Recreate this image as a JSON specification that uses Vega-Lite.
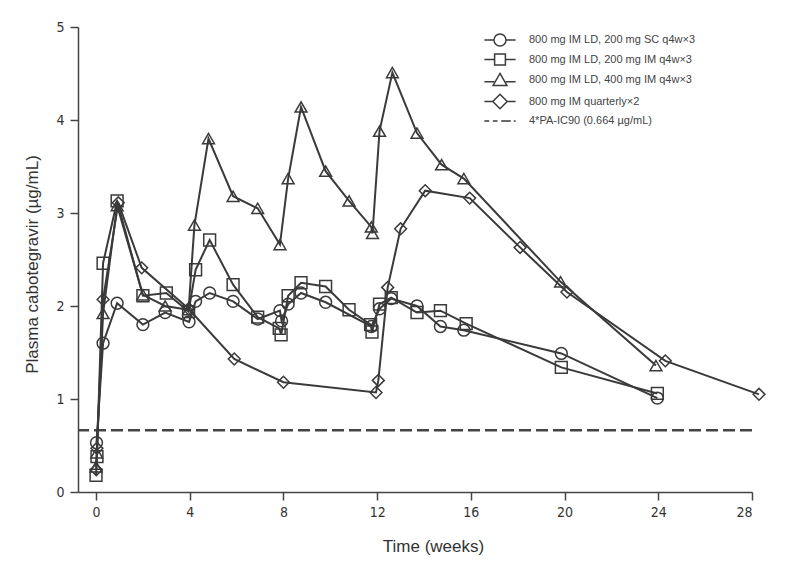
{
  "$schema": "https://vega.github.io/schema/vega-lite/v6.json",
  "width": 674,
  "height": 465,
  "autosize": "none",
  "padding": {"left": 78, "top": 27, "right": 48, "bottom": 88},
  "background": "white",
  "config": {
    "font": "Liberation Sans",
    "view": {"stroke": null},
    "axis": {
      "grid": false,
      "domainColor": "#444",
      "domainWidth": 1.5,
      "tickColor": "#444",
      "tickWidth": 1.5,
      "tickSize": 8,
      "labelFont": "Liberation Sans Narrow, DejaVu Sans Condensed, Liberation Sans",
      "labelFontSize": 14,
      "labelColor": "#333",
      "titleFont": "Liberation Sans",
      "titleFontSize": 17,
      "titleFontWeight": "normal",
      "titleColor": "#333"
    }
  },
  "datasets": {
    "pk": [
      {"s": "800 mg IM LD, 200 mg SC q4w×3", "t": 0.02, "c": 0.53},
      {"s": "800 mg IM LD, 200 mg SC q4w×3", "t": 0.3, "c": 1.6},
      {"s": "800 mg IM LD, 200 mg SC q4w×3", "t": 0.9, "c": 2.03},
      {"s": "800 mg IM LD, 200 mg SC q4w×3", "t": 2.0, "c": 1.8},
      {"s": "800 mg IM LD, 200 mg SC q4w×3", "t": 2.95, "c": 1.93},
      {"s": "800 mg IM LD, 200 mg SC q4w×3", "t": 3.97, "c": 1.83},
      {"s": "800 mg IM LD, 200 mg SC q4w×3", "t": 4.25, "c": 2.05},
      {"s": "800 mg IM LD, 200 mg SC q4w×3", "t": 4.85, "c": 2.14},
      {"s": "800 mg IM LD, 200 mg SC q4w×3", "t": 5.85, "c": 2.05},
      {"s": "800 mg IM LD, 200 mg SC q4w×3", "t": 6.9, "c": 1.86},
      {"s": "800 mg IM LD, 200 mg SC q4w×3", "t": 7.85, "c": 1.95},
      {"s": "800 mg IM LD, 200 mg SC q4w×3", "t": 7.92, "c": 1.84},
      {"s": "800 mg IM LD, 200 mg SC q4w×3", "t": 8.2, "c": 2.02},
      {"s": "800 mg IM LD, 200 mg SC q4w×3", "t": 8.75, "c": 2.14},
      {"s": "800 mg IM LD, 200 mg SC q4w×3", "t": 9.8, "c": 2.04},
      {"s": "800 mg IM LD, 200 mg SC q4w×3", "t": 11.75, "c": 1.78},
      {"s": "800 mg IM LD, 200 mg SC q4w×3", "t": 12.1, "c": 1.97},
      {"s": "800 mg IM LD, 200 mg SC q4w×3", "t": 12.6, "c": 2.08},
      {"s": "800 mg IM LD, 200 mg SC q4w×3", "t": 13.7, "c": 2.0},
      {"s": "800 mg IM LD, 200 mg SC q4w×3", "t": 14.7, "c": 1.78},
      {"s": "800 mg IM LD, 200 mg SC q4w×3", "t": 15.7, "c": 1.74},
      {"s": "800 mg IM LD, 200 mg SC q4w×3", "t": 19.86, "c": 1.49},
      {"s": "800 mg IM LD, 200 mg SC q4w×3", "t": 23.96, "c": 1.01},

      {"s": "800 mg IM LD, 200 mg IM q4w×3", "t": 0.0, "c": 0.18},
      {"s": "800 mg IM LD, 200 mg IM q4w×3", "t": 0.04, "c": 0.38},
      {"s": "800 mg IM LD, 200 mg IM q4w×3", "t": 0.3, "c": 2.46},
      {"s": "800 mg IM LD, 200 mg IM q4w×3", "t": 0.9, "c": 3.13},
      {"s": "800 mg IM LD, 200 mg IM q4w×3", "t": 2.0, "c": 2.11},
      {"s": "800 mg IM LD, 200 mg IM q4w×3", "t": 3.0, "c": 2.14},
      {"s": "800 mg IM LD, 200 mg IM q4w×3", "t": 3.95, "c": 1.94},
      {"s": "800 mg IM LD, 200 mg IM q4w×3", "t": 4.25, "c": 2.39},
      {"s": "800 mg IM LD, 200 mg IM q4w×3", "t": 4.85, "c": 2.71},
      {"s": "800 mg IM LD, 200 mg IM q4w×3", "t": 5.85, "c": 2.23},
      {"s": "800 mg IM LD, 200 mg IM q4w×3", "t": 6.9, "c": 1.88},
      {"s": "800 mg IM LD, 200 mg IM q4w×3", "t": 7.82, "c": 1.76},
      {"s": "800 mg IM LD, 200 mg IM q4w×3", "t": 7.9, "c": 1.69},
      {"s": "800 mg IM LD, 200 mg IM q4w×3", "t": 8.2, "c": 2.11},
      {"s": "800 mg IM LD, 200 mg IM q4w×3", "t": 8.75, "c": 2.25},
      {"s": "800 mg IM LD, 200 mg IM q4w×3", "t": 9.8, "c": 2.21},
      {"s": "800 mg IM LD, 200 mg IM q4w×3", "t": 10.8, "c": 1.96},
      {"s": "800 mg IM LD, 200 mg IM q4w×3", "t": 11.72, "c": 1.8},
      {"s": "800 mg IM LD, 200 mg IM q4w×3", "t": 11.78, "c": 1.72},
      {"s": "800 mg IM LD, 200 mg IM q4w×3", "t": 12.1, "c": 2.02},
      {"s": "800 mg IM LD, 200 mg IM q4w×3", "t": 12.6, "c": 2.09},
      {"s": "800 mg IM LD, 200 mg IM q4w×3", "t": 13.7, "c": 1.93},
      {"s": "800 mg IM LD, 200 mg IM q4w×3", "t": 14.7, "c": 1.95},
      {"s": "800 mg IM LD, 200 mg IM q4w×3", "t": 15.8, "c": 1.81},
      {"s": "800 mg IM LD, 200 mg IM q4w×3", "t": 19.86, "c": 1.34},
      {"s": "800 mg IM LD, 200 mg IM q4w×3", "t": 23.96, "c": 1.06},

      {"s": "800 mg IM LD, 400 mg IM q4w×3", "t": 0.0, "c": 0.27},
      {"s": "800 mg IM LD, 400 mg IM q4w×3", "t": 0.03, "c": 0.42},
      {"s": "800 mg IM LD, 400 mg IM q4w×3", "t": 0.3, "c": 1.92},
      {"s": "800 mg IM LD, 400 mg IM q4w×3", "t": 0.9, "c": 3.08},
      {"s": "800 mg IM LD, 400 mg IM q4w×3", "t": 2.0, "c": 2.12},
      {"s": "800 mg IM LD, 400 mg IM q4w×3", "t": 2.95, "c": 2.0},
      {"s": "800 mg IM LD, 400 mg IM q4w×3", "t": 3.95, "c": 1.96},
      {"s": "800 mg IM LD, 400 mg IM q4w×3", "t": 4.2, "c": 2.87},
      {"s": "800 mg IM LD, 400 mg IM q4w×3", "t": 4.8, "c": 3.8},
      {"s": "800 mg IM LD, 400 mg IM q4w×3", "t": 5.85, "c": 3.18},
      {"s": "800 mg IM LD, 400 mg IM q4w×3", "t": 6.9, "c": 3.05},
      {"s": "800 mg IM LD, 400 mg IM q4w×3", "t": 7.85, "c": 2.66},
      {"s": "800 mg IM LD, 400 mg IM q4w×3", "t": 8.2, "c": 3.37},
      {"s": "800 mg IM LD, 400 mg IM q4w×3", "t": 8.75, "c": 4.14},
      {"s": "800 mg IM LD, 400 mg IM q4w×3", "t": 9.8, "c": 3.45},
      {"s": "800 mg IM LD, 400 mg IM q4w×3", "t": 10.8, "c": 3.13},
      {"s": "800 mg IM LD, 400 mg IM q4w×3", "t": 11.75, "c": 2.85},
      {"s": "800 mg IM LD, 400 mg IM q4w×3", "t": 11.8, "c": 2.78},
      {"s": "800 mg IM LD, 400 mg IM q4w×3", "t": 12.1, "c": 3.88},
      {"s": "800 mg IM LD, 400 mg IM q4w×3", "t": 12.65, "c": 4.51},
      {"s": "800 mg IM LD, 400 mg IM q4w×3", "t": 13.7, "c": 3.86},
      {"s": "800 mg IM LD, 400 mg IM q4w×3", "t": 14.75, "c": 3.52},
      {"s": "800 mg IM LD, 400 mg IM q4w×3", "t": 15.7, "c": 3.37},
      {"s": "800 mg IM LD, 400 mg IM q4w×3", "t": 19.83, "c": 2.26},
      {"s": "800 mg IM LD, 400 mg IM q4w×3", "t": 23.9, "c": 1.36},

      {"s": "800 mg IM quarterly×2", "t": 0.01, "c": 0.24},
      {"s": "800 mg IM quarterly×2", "t": 0.04, "c": 0.47},
      {"s": "800 mg IM quarterly×2", "t": 0.3, "c": 2.07},
      {"s": "800 mg IM quarterly×2", "t": 0.95, "c": 3.11},
      {"s": "800 mg IM quarterly×2", "t": 1.95, "c": 2.41},
      {"s": "800 mg IM quarterly×2", "t": 3.95, "c": 1.97},
      {"s": "800 mg IM quarterly×2", "t": 5.9, "c": 1.43},
      {"s": "800 mg IM quarterly×2", "t": 8.0, "c": 1.18},
      {"s": "800 mg IM quarterly×2", "t": 11.95, "c": 1.07},
      {"s": "800 mg IM quarterly×2", "t": 12.05, "c": 1.2},
      {"s": "800 mg IM quarterly×2", "t": 12.45, "c": 2.2},
      {"s": "800 mg IM quarterly×2", "t": 13.0, "c": 2.83},
      {"s": "800 mg IM quarterly×2", "t": 14.05, "c": 3.24},
      {"s": "800 mg IM quarterly×2", "t": 15.95, "c": 3.16},
      {"s": "800 mg IM quarterly×2", "t": 18.1, "c": 2.63},
      {"s": "800 mg IM quarterly×2", "t": 20.1, "c": 2.15},
      {"s": "800 mg IM quarterly×2", "t": 24.3, "c": 1.41},
      {"s": "800 mg IM quarterly×2", "t": 28.3, "c": 1.05}
    ],
    "ref": [
      {"s": "4*PA-IC90 (0.664 µg/mL)", "c": 0.664}
    ]
  },
  "resolve": {"scale": {"shape": "independent"}, "legend": {"shape": "independent"}},
  "layer": [
    {
      "data": {"name": "ref"},
      "mark": {"type": "rule", "stroke": "#444", "strokeWidth": 2.5, "strokeDash": [12, 5]},
      "encoding": {
        "y": {"field": "c", "type": "quantitative", "scale": {"domain": [0, 5]}}
      }
    },
    {
      "data": {"name": "pk"},
      "mark": {"type": "line", "stroke": "#3a3a3a", "strokeWidth": 2},
      "encoding": {
        "x": {"field": "t", "type": "quantitative"},
        "y": {"field": "c", "type": "quantitative"},
        "detail": {"field": "s"}
      }
    },
    {
      "data": {"name": "pk"},
      "mark": {"type": "point", "filled": false, "stroke": "#3a3a3a", "strokeWidth": 1.5, "size": 140, "opacity": 1},
      "encoding": {
        "x": {
          "field": "t", "type": "quantitative",
          "scale": {"domain": [-0.77, 28], "nice": false, "zero": false},
          "axis": {"values": [0, 4, 8, 12, 16, 20, 24, 28], "title": "Time (weeks)", "labelPadding": 5, "titleX": 355, "titleY": 46, "titleAlign": "center"}
        },
        "y": {
          "field": "c", "type": "quantitative",
          "scale": {"domain": [0, 5], "nice": false},
          "axis": {"values": [0, 1, 2, 3, 4, 5], "format": "d", "title": "Plasma cabotegravir (µg/mL)", "labelPadding": 6, "titleX": -46, "titleY": 237, "titleAlign": "center", "titleBaseline": "middle", "titleAngle": -90}
        },
        "shape": {
          "field": "s", "type": "nominal",
          "scale": {
            "domain": ["800 mg IM LD, 200 mg SC q4w×3", "800 mg IM LD, 200 mg IM q4w×3", "800 mg IM LD, 400 mg IM q4w×3", "800 mg IM quarterly×2"],
            "range": ["circle", "square", "triangle-up", "diamond"]
          },
          "legend": null
        }
      }
    },
    {
      "data": {"name": "pk"},
      "mark": {"type": "point", "filled": false, "stroke": "#3a3a3a", "strokeWidth": 1.5, "size": 144, "opacity": 0},
      "encoding": {
        "x": {"field": "t", "type": "quantitative"},
        "y": {"field": "c", "type": "quantitative"},
        "shape": {
          "field": "s", "type": "nominal",
          "scale": {
            "domain": ["800 mg IM LD, 200 mg SC q4w×3", "800 mg IM LD, 200 mg IM q4w×3", "800 mg IM LD, 400 mg IM q4w×3", "800 mg IM quarterly×2", "4*PA-IC90 (0.664 µg/mL)"],
            "range": [
              "M-2.6,0H-1M1,0H2.6M-1,0A1,1 0 1,1 1,0A1,1 0 1,1 -1,0Z",
              "M-2.6,0H-0.9M0.9,0H2.6M-0.9,-0.9H0.9V0.9H-0.9Z",
              "M-2.6,0.3H-0.95M0.95,0.3H2.6M0,-1.1L1.15,0.9H-1.15Z",
              "M-2.6,0H-1.2M1.2,0H2.6M0,-1.2L1.2,0L0,1.2L-1.2,0Z",
              "M-2.6,0H-1.8M-1.2,0H-0.4M0.2,0H1.8M2.3,0H2.6"
            ]
          },
          "legend": {
            "title": null,
            "orient": "none",
            "legendX": 415,
            "legendY": 6,
            "padding": 0,
            "symbolSize": 144,
            "symbolOpacity": 1,
            "labelOffset": 22,
            "rowPadding": 1.5,
            "labelLimit": 400,
            "labelFont": "Liberation Sans",
            "labelFontSize": 11,
            "labelColor": "#444",
            "symbolStrokeColor": "#3a3a3a",
            "symbolStrokeWidth": 1.5,
            "symbolFillColor": "transparent"
          }
        }
      }
    }
  ]
}
